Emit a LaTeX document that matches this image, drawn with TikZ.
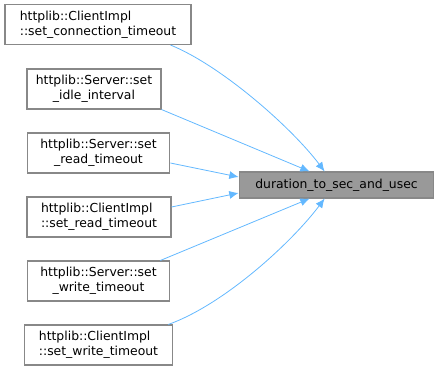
\documentclass[tikz,border=0pt]{standalone}
\usepackage{fontspec}
\setmainfont{DejaVu Sans}
\usepackage{tikz}
\usetikzlibrary{arrows.meta,calc}
\usepackage{xcolor}
\definecolor{edgeblue}{RGB}{99,184,255}
\definecolor{boxgray}{RGB}{136,136,136}
\definecolor{focusgray}{RGB}{153,153,153}
\tikzstyle{arrow} = [edgeblue,line width=0.6pt,-{Latex[length=7pt,width=6pt]}]
\tikzstyle{fnbox} = [rectangle, minimum height=30pt, inner sep=0pt, draw=boxgray, line width=0.8pt, fill=white, font=\fontsize{9.3}{11.2}\selectfont]

\begin{document}
\begin{tikzpicture}[x=0.75pt,y=-0.75pt]
\useasboundingbox (0,0) rectangle (439,371);
% Function being called
\node[fnbox, fill=focusgray, minimum width=146pt, minimum height=19.5pt] at (336.5,185) (target) {duration\_to\_sec\_and\_usec};

% Callers on the left
\node[fnbox, minimum width=139.5pt, align=left] at (98,24.5) (conn) {httplib::ClientImpl\\::set\_connection\_timeout};
\node[fnbox, minimum width=100.5pt, align=center] at (94,89) (idle) {httplib::Server::set\\\_idle\_interval};
\node[fnbox, minimum width=107pt, align=center] at (98.5,153) (sread) {httplib::Server::set\\\_read\_timeout};
\node[fnbox, minimum width=108pt, align=left] at (99,217) (cread) {httplib::ClientImpl\\::set\_read\_timeout};
\node[fnbox, minimum width=107pt, align=center] at (98.5,281) (swrite) {httplib::Server::set\\\_write\_timeout};
\node[fnbox, minimum width=111.5pt, align=left] at (98.5,345) (cwrite) {httplib::ClientImpl\\::set\_write\_timeout};

% Call edges
\draw[arrow] ($(conn.south east)+(-21,0)$) .. controls (222,66) and (292,128) .. ($(target.north west)+(86,0)$);
\draw[arrow] (idle.south east) -- ($(target.north west)+(71,0)$);
\draw[arrow] ($(sread.east)+(0,10)$) -- ($(target.west)+(0,-8)$);
\draw[arrow] ($(cread.east)+(0,-10)$) -- ($(target.west)+(0,8)$);
\draw[arrow] ($(swrite.north east)+(-10,0)$) -- ($(target.south west)+(71,0)$);
\draw[arrow] ($(cwrite.north east)+(-5,0)$) .. controls (225,304) and (292,242) .. ($(target.south west)+(86,0)$);
\end{tikzpicture}
\end{document}
